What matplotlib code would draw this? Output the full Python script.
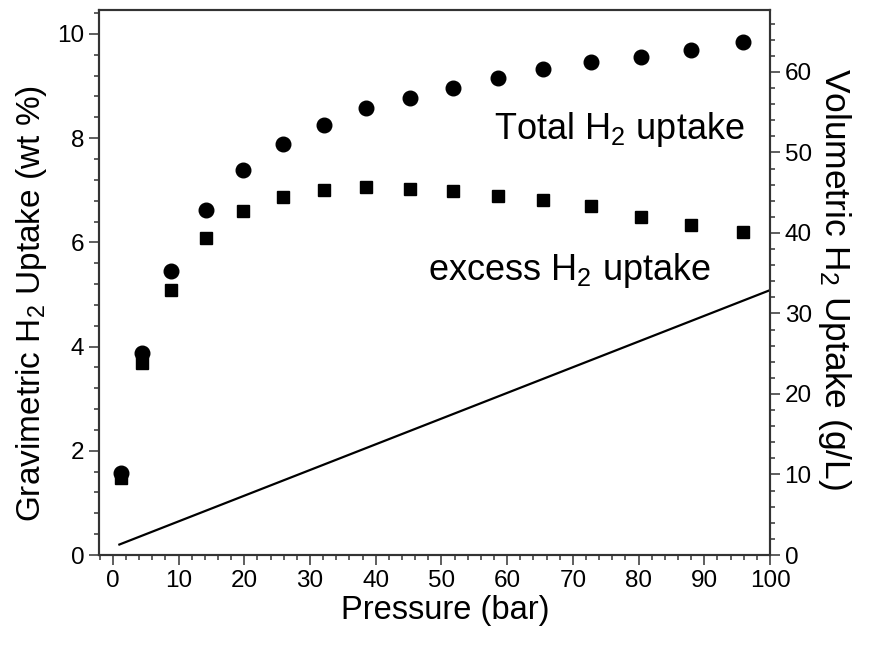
import numpy as np
import matplotlib
matplotlib.use("Agg")
import matplotlib.pyplot as plt
from matplotlib.ticker import MultipleLocator

plt.rcParams['font.family'] = ['Liberation Sans', 'DejaVu Sans']
plt.rcParams['mathtext.fontset'] = 'custom'
plt.rcParams['mathtext.rm'] = 'Liberation Sans'
plt.rcParams['mathtext.default'] = 'regular'

# pressure (bar)
pressure = [1.2, 4.4, 8.9, 14.2, 19.8, 25.9, 32.2, 38.6, 45.2, 51.8,
            58.6, 65.5, 72.8, 80.4, 88.0, 95.9]
# gravimetric uptake (wt %)
total_uptake = [1.58, 3.87, 5.45, 6.63, 7.39, 7.89, 8.25, 8.57, 8.78, 8.97,
                9.15, 9.32, 9.47, 9.55, 9.69, 9.84]
excess_uptake = [1.48, 3.68, 5.09, 6.09, 6.60, 6.88, 7.01, 7.06, 7.03, 6.99,
                 6.89, 6.81, 6.69, 6.49, 6.33, 6.19]
# volumetric line (g/L)
line_p = [1.0, 100.0]
line_vol = [1.3, 32.9]

spine_col = '#333333'

fig = plt.figure(figsize=(8.73, 6.49), dpi=100)
ax = fig.add_axes([99 / 873, 1 - 555 / 649, (770 - 99) / 873, (555 - 10) / 649])
ax2 = ax.twinx()

ax.plot(pressure, total_uptake, 'o', color='black', markersize=10.5, zorder=3)
ax.plot(pressure, excess_uptake, 's', color='black', markersize=8.5, zorder=3)
ax2.plot(line_p, line_vol, '-', color='black', linewidth=1.6)

ax.set_xlim(-2.1, 100)
ax.set_ylim(0, 10.46)
ax2.set_ylim(0, 67.7)

ax.xaxis.set_major_locator(MultipleLocator(10))
ax.xaxis.set_minor_locator(MultipleLocator(2))
ax.yaxis.set_major_locator(MultipleLocator(2))
ax.yaxis.set_minor_locator(MultipleLocator(0.4))
ax2.yaxis.set_major_locator(MultipleLocator(10))
ax2.yaxis.set_minor_locator(MultipleLocator(2))

for a in (ax, ax2):
    for s in a.spines.values():
        s.set_color(spine_col)
        s.set_linewidth(1.5)
    a.tick_params(which='major', length=7.5, width=1.1, color=spine_col,
                  labelsize=17.5, pad=3)
    a.tick_params(which='minor', length=3.8, width=1.1, color=spine_col)

ax.tick_params(which='both', direction='out', top=False, right=False)
ax2.tick_params(which='both', direction='out', right=True, left=False)

ax.set_xlabel('Pressure (bar)', fontsize=23.5)
ax.xaxis.set_label_coords(0.516, -0.074)
ax.set_ylabel('Gravimetric H$_2$ Uptake (wt %)', fontsize=24)
ax.yaxis.set_label_coords(-0.075, 0.462)
ax2.set_ylabel('Volumetric H$_2$ Uptake (g/L)', fontsize=25.5, rotation=270,
               va='bottom')
ax2.yaxis.set_label_coords(1.068, 0.506)

ax.text(96.2, 7.99, 'Total H$_2$ uptake', fontsize=26, ha='right', va='baseline')
ax.text(47.9, 5.28, 'excess H$_2$ uptake', fontsize=26, ha='left', va='baseline')

fig.savefig('out.png', dpi=100)
